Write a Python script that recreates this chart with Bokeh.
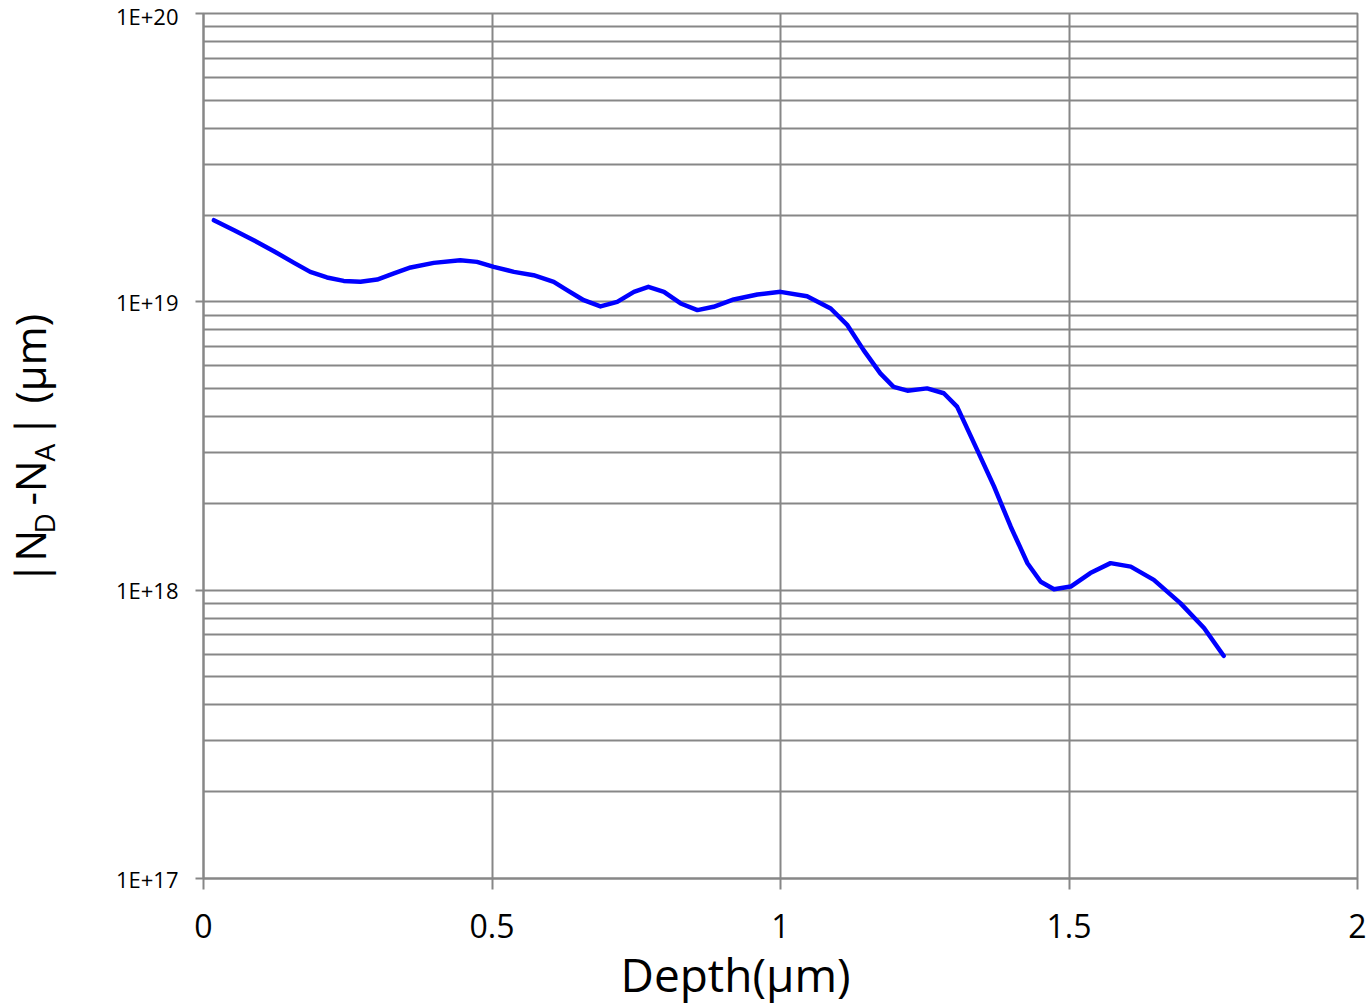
import math
from bokeh.plotting import figure
from bokeh.models import Range1d, FixedTicker, Label, Title
from bokeh.layouts import row
from bokeh.embed import file_html
from bokeh.resources import INLINE

# ---- data ----
depth = [0.018, 0.053, 0.087, 0.122, 0.157, 0.185, 0.214, 0.243, 0.272, 0.301,
         0.330, 0.359, 0.399, 0.445, 0.474, 0.503, 0.538, 0.572, 0.607, 0.630,
         0.659, 0.688, 0.717, 0.746, 0.771, 0.798, 0.827, 0.856, 0.884, 0.919,
         0.960, 1.000, 1.046, 1.087, 1.116, 1.144, 1.173, 1.196, 1.220, 1.254,
         1.283, 1.306, 1.341, 1.370, 1.399, 1.428, 1.451, 1.474, 1.503, 1.537,
         1.572, 1.607, 1.647, 1.693, 1.734, 1.768]
conc = [1.919e19, 1.772e19, 1.635e19, 1.498e19, 1.365e19, 1.270e19, 1.215e19, 1.182e19, 1.173e19, 1.195e19,
        1.254e19, 1.316e19, 1.365e19, 1.394e19, 1.376e19, 1.322e19, 1.270e19, 1.237e19, 1.173e19, 1.098e19,
        1.013e19, 9.64e18, 1.000e19, 1.083e19, 1.127e19, 1.083e19, 9.87e18, 9.36e18, 9.61e18, 1.019e19,
        1.060e19, 1.083e19, 1.046e19, 9.48e18, 8.30e18, 6.80e18, 5.65e18, 5.07e18, 4.92e18, 5.01e18,
        4.82e18, 4.33e18, 3.06e18, 2.29e18, 1.66e18, 1.24e18, 1.07e18, 1.008e18, 1.029e18, 1.146e18,
        1.241e18, 1.207e18, 1.086e18, 9.02e17, 7.39e17, 5.92e17]

x_ticks = [0, 0.5, 1, 1.5, 2]
x_tick_labels = ["0", "0.5", "1", "1.5", "2"]
y_ticks = [1e17, 1e18, 1e19, 1e20]
y_tick_labels = ["1E+17", "1E+18", "1E+19", "1E+20"]
y_minor_ticks = [2e17, 3e17, 4e17, 5e17, 6e17, 7e17, 8e17, 9e17,
                 2e18, 3e18, 4e18, 5e18, 6e18, 7e18, 8e18, 9e18,
                 2e19, 3e19, 4e19, 5e19, 6e19, 7e19, 8e19, 9e19]
x_title = "Depth(μm)"
y_title_parts = [("|N", False), ("D", True), ("-N", False), ("A", True), ("| (μm)", False)]

GRID = "#878787"
FONT = "Open Sans"
W, H = 1369, 1004
LW = 75  # width of the strip that holds the vertical axis title

# ---- strip with the rotated y-axis title (subscripts need several text runs) ----
lab = figure(width=LW, height=H, output_backend="svg", toolbar_location=None,
             x_range=Range1d(0, LW), y_range=Range1d(H, 0),
             x_axis_type=None, y_axis_type=None,
             min_border=0, min_border_left=0, min_border_right=0,
             min_border_top=0, min_border_bottom=0)
lab.frame_align = False
lab.grid.visible = False
lab.outline_line_color = None
lab.background_fill_color = "white"
lab.border_fill_color = "white"
starts = [584, 533, 505, 461, 437]
for (txt, sub), y0 in zip(y_title_parts, starts):
    lab.add_layout(Label(x=43 if sub else 29, y=y0, text=txt,
                         angle=math.pi / 2, angle_units="rad",
                         text_font=FONT, text_font_size="28px" if sub else "42px",
                         text_color="black", text_align="left", text_baseline="middle"))

# ---- main chart ----
p = figure(width=W - LW, height=H, output_backend="svg", toolbar_location=None,
           x_range=Range1d(0, 2), y_range=Range1d(1e17, 1e20), y_axis_type="log",
           min_border_left=203 - LW, min_border_right=12, min_border_top=13, min_border_bottom=125)
p.frame_align = False
p.outline_line_color = GRID
p.outline_line_width = 2
p.background_fill_color = "white"
p.border_fill_color = "white"

p.xaxis.ticker = FixedTicker(ticks=x_ticks)
p.xaxis.major_label_overrides = dict(zip(x_ticks, x_tick_labels))
p.yaxis.ticker = FixedTicker(ticks=y_ticks, minor_ticks=y_minor_ticks)
p.yaxis.major_label_overrides = dict(zip(y_ticks, y_tick_labels))
for ax in (p.xaxis[0], p.yaxis[0]):
    ax.axis_line_color = GRID
    ax.axis_line_width = 2
    ax.major_tick_line_color = GRID
    ax.major_tick_line_width = 2
    ax.major_tick_in = 0
    ax.minor_tick_in = 0
    ax.minor_tick_out = 0
    ax.major_label_text_font = FONT
    ax.major_label_text_color = "black"
p.xaxis.major_tick_out = 11
p.xaxis.major_label_text_font_size = "32px"
p.xaxis.major_label_standoff = 24
p.yaxis.major_tick_out = 8
p.yaxis.major_label_text_font_size = "22px"
p.yaxis.major_label_standoff = 17

# x-axis title sits left of centre in the reference, so it is placed as a below-title
p.add_layout(Title(text=x_title, align="left", offset=417, standoff=0,
                   text_font=FONT, text_font_size="46px", text_font_style="normal",
                   text_color="black"), "below")

p.xgrid.ticker = FixedTicker(ticks=x_ticks)
p.xgrid.grid_line_color = GRID
p.xgrid.grid_line_width = 2
p.ygrid.ticker = FixedTicker(ticks=y_ticks, minor_ticks=y_minor_ticks)
p.ygrid.grid_line_color = GRID
p.ygrid.grid_line_width = 2
p.ygrid.minor_grid_line_color = GRID
p.ygrid.minor_grid_line_width = 2

p.line(depth, conc, line_color="#0000FF", line_width=4.5, line_join="round", line_cap="round")

open("out.html", "w").write(file_html(row(lab, p), INLINE))
